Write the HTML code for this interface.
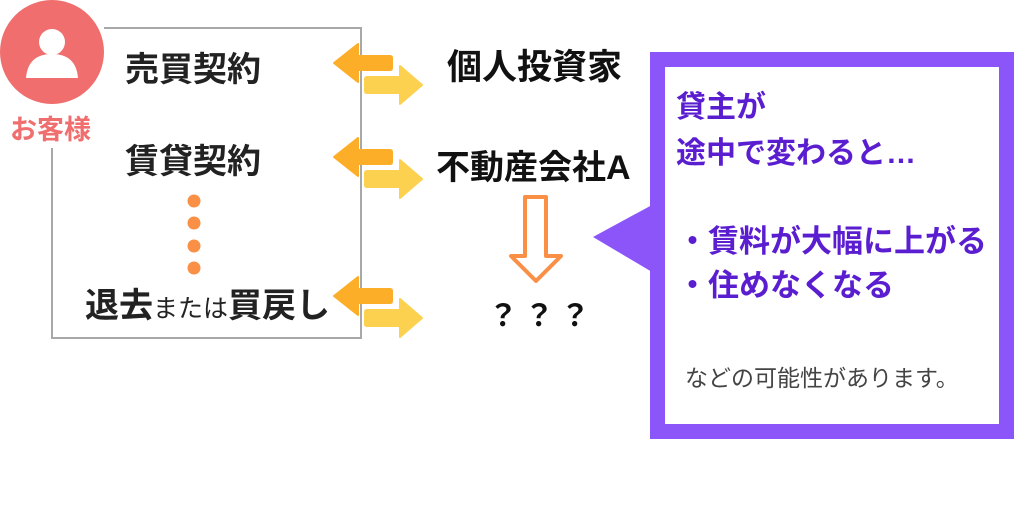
<!DOCTYPE html>
<html><head><meta charset="utf-8"><style>
body{margin:0;width:1024px;height:512px;background:#fff;position:relative;overflow:hidden;font-family:"Liberation Sans","Noto Sans CJK JP",sans-serif}
.t{position:absolute;white-space:nowrap;font-weight:bold;color:#222;line-height:1}
</style></head><body>
<svg width="1024" height="512" style="position:absolute;left:0;top:0">
<polyline points="104,28 361,28 361,338 52,338 52,148" fill="none" stroke="#a8a8a8" stroke-width="2"/>
<circle cx="52" cy="52" r="52" fill="#f06e6e"/>
<circle cx="52" cy="42" r="13" fill="#fff"/>
<path d="M26,78 Q28,54 52,54 Q76,54 78,78 Z" fill="#fff"/>
<g fill="#fa8f46"><circle cx="194" cy="201" r="6.5"/><circle cx="194" cy="223" r="6.5"/><circle cx="194" cy="246" r="6.5"/><circle cx="194" cy="268" r="6.5"/></g>
<defs>
<g id="ar">
<path d="M334,0 L358,-19 L358,-7 L390,-7 Q392,-7 392,-5 L392,5 Q392,7 390,7 L358,7 L358,19 Z" fill="#fdae28" stroke="#fdae28" stroke-width="2" stroke-linejoin="round"/>
<path d="M422,22 L400,3 L400,14 L367,14 Q365,14 365,16 L365,28 Q365,30 367,30 L400,30 L400,41 Z" fill="#fdd150" stroke="#fdd150" stroke-width="2" stroke-linejoin="round"/>
</g>
</defs>
<use href="#ar" y="63"/><use href="#ar" y="157"/><use href="#ar" y="296"/>
<path d="M525,197 L546,197 L546,256 L561,256 L536,281 L511,256 L525,256 Z" fill="#fff" stroke="#fa8f46" stroke-width="4" stroke-linejoin="round"/>
<polygon points="593,237 652,205 652,272" fill="#8c55fa"/>
<rect x="657.5" y="59.5" width="349" height="372" fill="#fff" stroke="#8c55fa" stroke-width="15"/>
</svg>
<div class="t" style="left:125px;top:53px;font-size:34px">売買契約</div>
<div class="t" style="left:125px;top:145px;font-size:34px">賃貸契約</div>
<div class="t" style="left:85px;top:289px;font-size:34px">退去<span style="font-size:25px;font-weight:normal">または</span>買戻し</div>
<div class="t" style="left:10px;top:117px;font-size:27px;color:#f06e6e">お客様</div>
<div class="t" style="left:447px;top:50px;font-size:35px;color:#111">個人投資家</div>
<div class="t" style="left:436px;top:151px;font-size:34px;color:#111">不動産会社A</div>
<div class="t" style="left:488px;top:302px;font-size:30px;color:#111;letter-spacing:6px">？？？</div>
<div class="t" style="left:676px;top:93px;font-size:30px;color:#5a1ed0">貸主が</div>
<div class="t" style="left:676px;top:139px;font-size:30px;color:#5a1ed0">途中で変わると…</div>
<div class="t" style="left:677px;top:226px;font-size:31px;color:#5a1ed0">・賃料が大幅に上がる</div>
<div class="t" style="left:677px;top:270px;font-size:31px;color:#5a1ed0">・住めなくなる</div>
<div class="t" style="left:685px;top:367px;font-size:23px;color:#444;font-weight:normal">などの可能性があります。</div>
</body></html>
